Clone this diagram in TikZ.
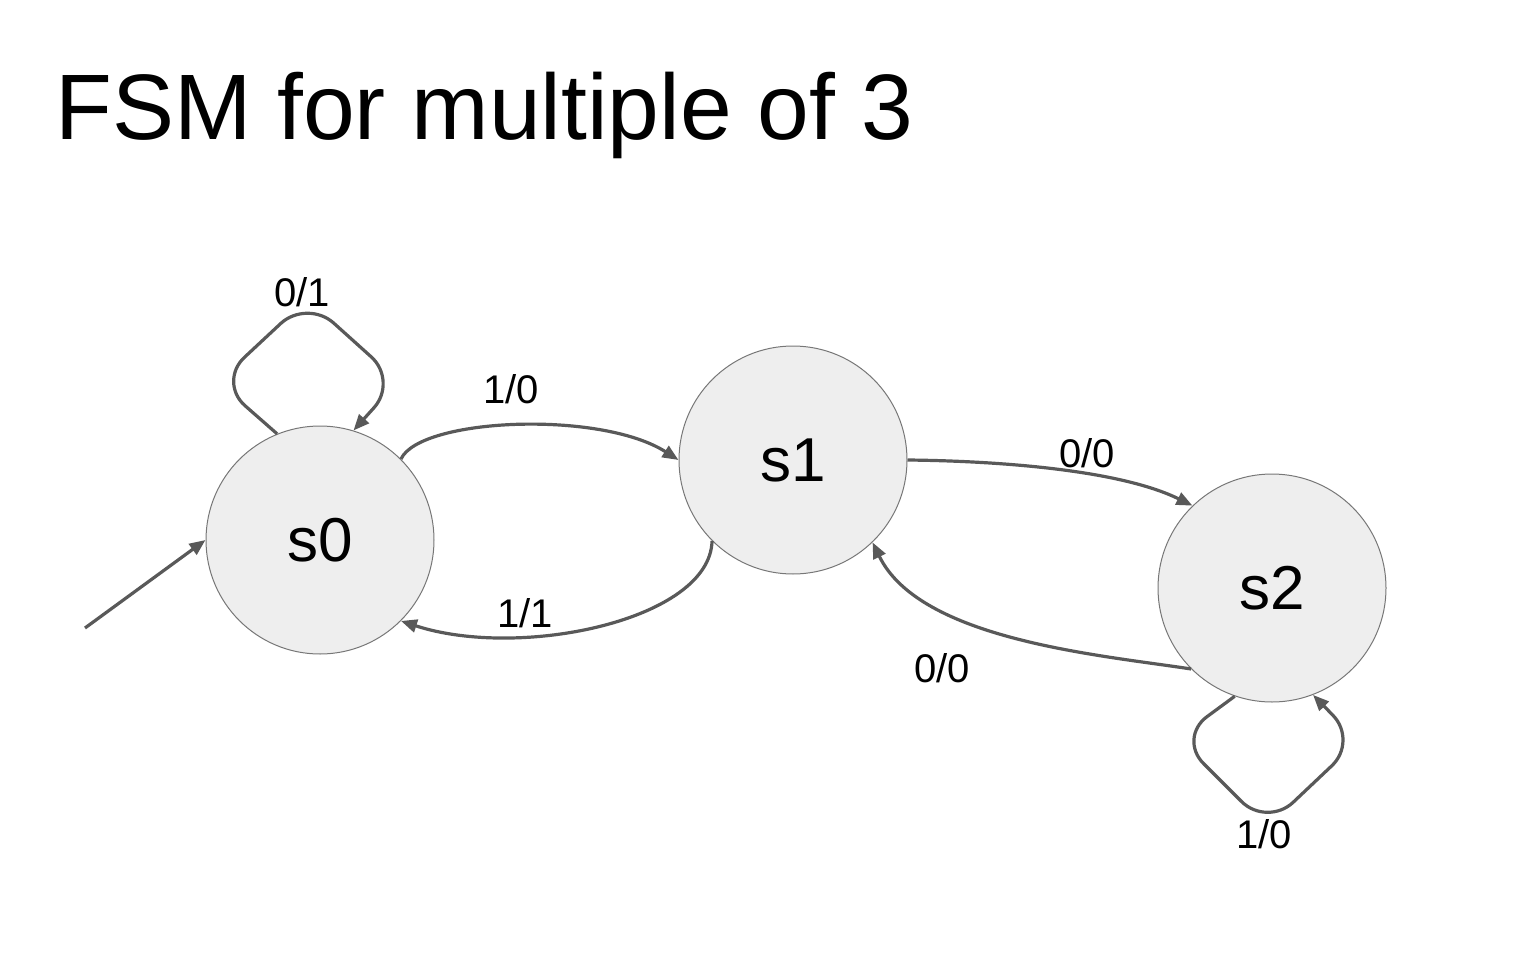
\documentclass[tikz,border=0pt]{standalone}
\usepackage{fontspec}
\setmainfont{Liberation Sans}
\usetikzlibrary{arrows.meta}
\definecolor{edgecol}{HTML}{595959}
\definecolor{statefill}{HTML}{EEEEEE}
\definecolor{stateline}{HTML}{777777}
\begin{document}
\begin{tikzpicture}[x=1pt,y=-1pt,
  state/.style={circle,draw=stateline,line width=1pt,fill=statefill,minimum size=228pt,inner sep=0pt,font=\fontsize{62}{70}\selectfont},
  edge/.style={draw=edgecol,line width=3.2pt,-{Triangle[length=16pt,width=13pt]}},
  lbl/.style={anchor=base,inner sep=0pt,font=\fontsize{40}{46}\selectfont}]
\useasboundingbox (0,0) rectangle (1536,960);
\node[anchor=base west,inner sep=0pt,font=\fontsize{93}{100}\selectfont] (title) at (55,140) {FSM for multiple of 3};
\node[state] (s0) at (320,540) {s0};
\node[state] (s1) at (793,460) {s1};
\node[state] (s2) at (1272,588) {s2};
\coordinate (init) at (85,628);
\draw[edge] (init) -- (s0.180);
% self loop s0
\draw[edge,rounded corners=36pt] (s0.112) -- (218,382) -- (307,299) -- (398,381) -- (s0.73);
% s0 -> s1
\draw[edge] (s0.45) .. controls (420,418) and (600,410) .. (s1.180);
% s1 -> s0
\draw[edge] (s1.225) .. controls (710,620) and (520,660) .. (s0.-45);
% s1 -> s2
\draw[edge] (s1.0) .. controls (1000,461) and (1120,470) .. (s2.134);
% s2 -> s1
\draw[edge] (s2.225) .. controls (1100,655) and (920,640) .. (s1.-46);
% self loop s2
\draw[edge,rounded corners=36pt] (s2.251) -- (1178,738) -- (1267,827) -- (1358,741) -- (s2.291);
% labels
\node[lbl] (l01) at (302,306) {0/1};
\node[lbl] (l10a) at (511,403) {1/0};
\node[lbl] (l11) at (525,627) {1/1};
\node[lbl] (l00a) at (1087,467) {0/0};
\node[lbl] (l00b) at (942,682) {0/0};
\node[lbl] (l10b) at (1264,848) {1/0};
\end{tikzpicture}
\end{document}
